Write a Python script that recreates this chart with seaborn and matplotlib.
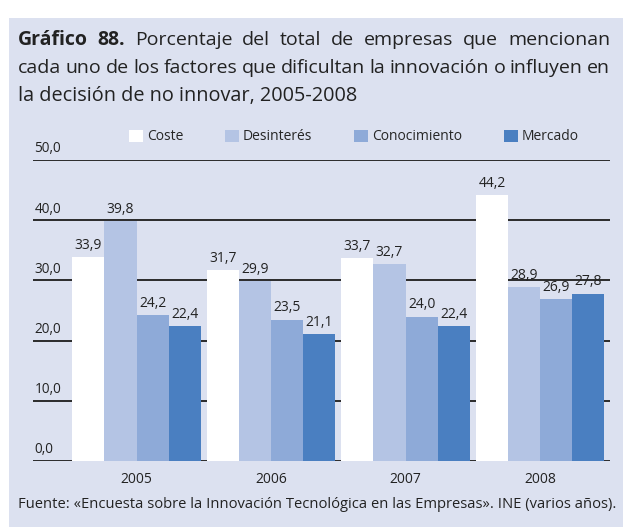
import numpy as np
import pandas as pd
import matplotlib
matplotlib.use("Agg")
import matplotlib.pyplot as plt
import seaborn as sns
from matplotlib.patches import Rectangle

## Data
years = ["2005", "2006", "2007", "2008"]
factors = ["Coste", "Desinterés", "Conocimiento", "Mercado"]
coste = [33.9, 31.7, 33.7, 44.2]
desinteres = [39.8, 29.9, 32.7, 28.9]
conocimiento = [24.2, 23.5, 24.0, 26.9]
mercado = [22.4, 21.1, 22.4, 27.8]
yticks = [0, 10, 20, 30, 40, 50]

colors = ["#ffffff", "#b4c4e4", "#8eaad8", "#4a7fc1"]
bg = "#dce1f0"
txt = "#222222"

sns.set_theme(style="white")
plt.rcParams["font.family"] = ["Open Sans", "DejaVu Sans"]

df = pd.DataFrame({
    "year": years * 4,
    "factor": np.repeat(factors, 4),
    "value": coste + desinteres + conocimiento + mercado,
})

fig = plt.figure(figsize=(6.23, 5.27), dpi=100)
fig.patch.set_facecolor("white")
# background panel
fig.patches.append(Rectangle((9 / 623, 0), 1, 1 - 18 / 527, transform=fig.transFigure,
                             facecolor=bg, edgecolor="none", zorder=-10))

ax = fig.add_axes([33 / 623, 1 - 461 / 527, (610 - 33) / 623, (461 - 160) / 527])
ax.set_facecolor("none")

# gridlines behind bars
for v in yticks:
    ax.axhline(v, color="#2b2b2b", lw=1.4, zorder=0)
    ax.text(-0.76, v + 0.6, f"{v:.1f}".replace(".", ","), fontsize=9.8,
            color=txt, ha="left", va="bottom")

sns.barplot(data=df, x="year", y="value", hue="factor", palette=colors,
            width=0.955, ax=ax, zorder=2, legend=True, saturation=1, linewidth=0)

for cont in ax.containers:
    ax.bar_label(cont, labels=[f"{b.get_height():.1f}".replace(".", ",") for b in cont],
                 padding=3, fontsize=10, color=txt)

ax.set_xlim(-0.77, 3.52)
ax.set_ylim(0, 50)
ax.set_yticks([])
ax.set_xlabel("")
ax.set_ylabel("")
for s in ax.spines.values():
    s.set_visible(False)
ax.tick_params(axis="x", length=0, pad=8, labelsize=10, colors=txt)

handles, labels = ax.get_legend_handles_labels()
ax.legend_.remove()
for h in handles:
    h.set_linewidth(0)
fig.legend(handles, labels, loc="center", bbox_to_anchor=(0.568, 1 - 137 / 527),
           ncol=4, frameon=False, fontsize=10, handlelength=1.0, handleheight=1.0,
           columnspacing=3.0, handletextpad=0.3)

# title, justified lines
renderer = fig.canvas.get_renderer()
x0, x1 = 18, 610


def justified(words, y, bold_first=False, fs=14):
    arts = []
    for i, w in enumerate(words):
        t = fig.text(0, 1 - y / 527, w, fontsize=fs, color=txt, va="center",
                     fontweight="bold" if (bold_first and i < 2) else "normal")
        arts.append(t)
    widths = [a.get_window_extent(renderer).width for a in arts]
    gap = (x1 - x0 - sum(widths)) / (len(words) - 1)
    x = x0
    for a, w in zip(arts, widths):
        a.set_x(x / 623)
        x += w + gap


justified(["Gráfico", "88.", "Porcentaje", "del", "total", "de", "empresas", "que",
           "mencionan"], 40, bold_first=True)
justified(["cada", "uno", "de", "los", "factores", "que", "dificultan", "la", "innovación",
           "o", "influyen", "en"], 68)
fig.text(x0 / 623, 1 - 96 / 527, "la decisión de no innovar, 2005-2008",
         fontsize=14.3, color=txt, va="center")

fig.text(18 / 623, 1 - 505 / 527,
         "Fuente: «Encuesta sobre la Innovación Tecnológica en las Empresas». INE (varios años).",
         fontsize=10.6, color=txt, va="center")

fig.savefig("out.png", dpi=100)
